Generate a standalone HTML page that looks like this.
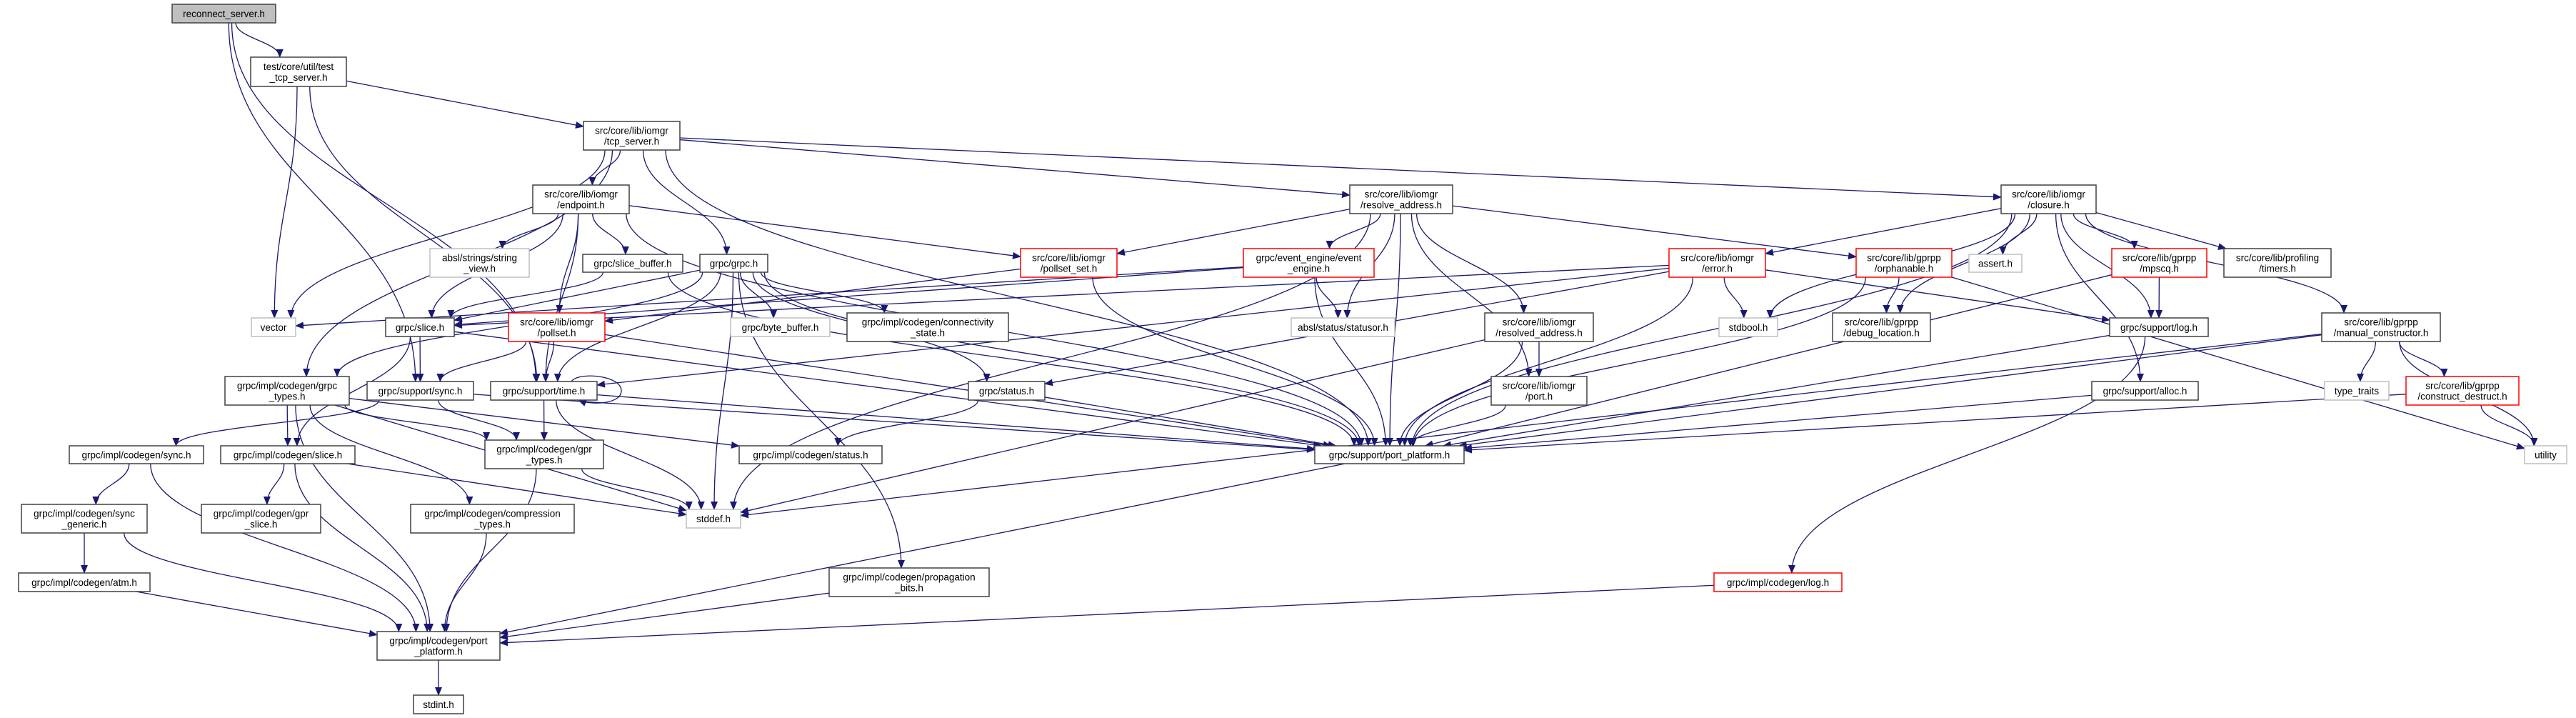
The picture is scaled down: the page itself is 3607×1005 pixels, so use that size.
<!DOCTYPE html>
<html><head><meta charset="utf-8"><style>
html,body{margin:0;padding:0;background:#fff;}
svg{display:block;}
text{font-family:"Liberation Sans",sans-serif;font-size:13.5px;fill:#000;}
</style></head><body>
<svg id="g" xmlns="http://www.w3.org/2000/svg" width="3607" height="1005" viewBox="0 0 3607 1005">
<defs><marker id="a" markerWidth="12" markerHeight="10" refX="11" refY="5" orient="auto" markerUnits="userSpaceOnUse"><path d="M0,0 L12,5 L0,10 z" fill="#191970"/></marker></defs>
<g id="edges" fill="none" stroke="#191970" stroke-width="1.3"></g>
<g id="nodes"></g>
</svg>
<script>
var N={
R:[241,6,386,32,"g",["reconnect_server.h"]],
TTS:[351,80,485,121,"b",["test/core/util/test","_tcp_server.h"]],
TS:[817,170,952,210,"b",["src/core/lib/iomgr","/tcp_server.h"]],
EP:[746,259,881,299,"b",["src/core/lib/iomgr","/endpoint.h"]],
SV:[602,348,741,388,"x",["absl/strings/string","_view.h"]],
SB:[816,356,956,381,"b",["grpc/slice_buffer.h"]],
VEC:[352,445,414,471,"x",["vector"]],
SL:[540,445,636,471,"b",["grpc/slice.h"]],
PS:[712,438,847,478,"r",["src/core/lib/iomgr","/pollset.h"]],
GRPC:[980,356,1075,381,"b",["grpc/grpc.h"]],
PSS:[1429,348,1564,388,"r",["src/core/lib/iomgr","/pollset_set.h"]],
EE:[1741,348,1924,388,"r",["grpc/event_engine/event","_engine.h"]],
BB:[1023,445,1162,471,"x",["grpc/byte_buffer.h"]],
CS:[1186,438,1412,478,"b",["grpc/impl/codegen/connectivity","_state.h"]],
RA:[1890,259,2034,299,"b",["src/core/lib/iomgr","/resolve_address.h"]],
SO:[1808,445,1953,471,"x",["absl/status/statusor.h"]],
ERR:[2337,348,2472,388,"r",["src/core/lib/iomgr","/error.h"]],
RD:[2079,438,2231,478,"b",["src/core/lib/iomgr","/resolved_address.h"]],
SBOOL:[2407,445,2489,471,"x",["stdbool.h"]],
ORP:[2599,348,2733,388,"r",["src/core/lib/gprpp","/orphanable.h"]],
DL:[2566,438,2703,478,"b",["src/core/lib/gprpp","/debug_location.h"]],
CL:[2802,259,2935,299,"b",["src/core/lib/iomgr","/closure.h"]],
AS:[2757,356,2831,381,"x",["assert.h"]],
MQ:[2957,348,3090,388,"r",["src/core/lib/gprpp","/mpscq.h"]],
TM:[3114,348,3264,388,"b",["src/core/lib/profiling","/timers.h"]],
LOG:[2954,445,3092,471,"b",["grpc/support/log.h"]],
MC:[3251,438,3417,478,"b",["src/core/lib/gprpp","/manual_constructor.h"]],
GT:[315,527,489,567,"b",["grpc/impl/codegen/grpc","_types.h"]],
SYN:[514,534,663,560,"b",["grpc/support/sync.h"]],
TIME:[687,534,836,560,"b",["grpc/support/time.h"]],
CSYN:[97,624,285,649,"b",["grpc/impl/codegen/sync.h"]],
CSL:[309,624,497,649,"b",["grpc/impl/codegen/slice.h"]],
GPT:[679,616,845,656,"b",["grpc/impl/codegen/gpr","_types.h"]],
SG:[30,706,206,746,"b",["grpc/impl/codegen/sync","_generic.h"]],
GPS:[282,706,449,746,"b",["grpc/impl/codegen/gpr","_slice.h"]],
CT:[575,706,804,746,"b",["grpc/impl/codegen/compression","_types.h"]],
ATM:[26,802,210,828,"b",["grpc/impl/codegen/atm.h"]],
CPP:[528,884,700,924,"b",["grpc/impl/codegen/port","_platform.h"]],
STDINT:[579,973,649,999,"b",["stdint.h"]],
ST:[1356,534,1463,560,"b",["grpc/status.h"]],
CST:[1035,624,1235,649,"b",["grpc/impl/codegen/status.h"]],
STDDEF:[961,713,1037,739,"x",["stddef.h"]],
PB:[1161,795,1385,835,"b",["grpc/impl/codegen/propagation","_bits.h"]],
PORT:[2088,527,2222,567,"b",["src/core/lib/iomgr","/port.h"]],
PP:[1841,624,2050,649,"b",["grpc/support/port_platform.h"]],
CLOG:[2400,802,2579,828,"r",["grpc/impl/codegen/log.h"]],
ALLOC:[2929,534,3078,560,"b",["grpc/support/alloc.h"]],
TT:[3255,534,3345,560,"x",["type_traits"]],
CD:[3369,527,3527,567,"r",["src/core/lib/gprpp","/construct_destruct.h"]],
UT:[3535,624,3594,649,"x",["utility"]]
};
var E="R>TTS R>SYN R>TIME TTS>TS TTS>VEC TTS>TIME TS>VEC TS>EP TS>GRPC TS>RA TS>CL TS>GT TS>PP EP>SV EP>SB EP>PS EP>PSS EP>SL EP>TIME EP>PP SB>SL SB>PP GRPC>SL GRPC>BB GRPC>CS GRPC>GT GRPC>ST GRPC>PB GRPC>PP GRPC>STDDEF GRPC>TIME EE>VEC PSS>PS PSS>PP PS>SYN PS>TIME PS>PP EE>SO EE>SL EE>PP RA>EE RA>SO RA>RD RA>PORT RA>PP RA>ORP RA>STDDEF RA>PSS ERR>SBOOL ERR>SL ERR>ST ERR>TIME ERR>PP ERR>LOG ORP>DL ORP>PP ORP>UT CL>ERR CL>AS CL>MQ CL>TM CL>LOG CL>MC CL>DL CL>PP CL>ALLOC CL>SBOOL MQ>LOG MQ>PP LOG>PP LOG>CLOG MC>TT MC>CD MC>UT MC>PP MC>STDDEF CD>UT CD>PP RD>PORT RD>PP RD>STDDEF PORT>PP ALLOC>PP ST>CST ST>PP SL>SYN SL>CSL SL>PP GT>CSL GT>GPT GT>CT GT>CST GT>STDDEF GT>CPP SYN>CSYN SYN>GPT SYN>PP TIME>GPT TIME>STDDEF TIME>PP CSYN>SG CSYN>CPP SG>ATM SG>CPP ATM>CPP CSL>GPS CSL>CPP CSL>STDDEF GPT>CPP GPT>STDDEF CT>CPP PB>CPP PP>CPP CLOG>CPP CPP>STDINT".split(" ");
var NS="http://www.w3.org/2000/svg";
function el(t,a){var e=document.createElementNS(NS,t);for(var k in a)e.setAttribute(k,a[k]);return e;}
function clip(n,px,py){var cx=(n[0]+n[2])/2,cy=(n[1]+n[3])/2,dx=px-cx,dy=py-cy,hw=(n[2]-n[0])/2,hh=(n[3]-n[1])/2;
var t=Math.min(dx?hw/Math.abs(dx):1e9,dy?hh/Math.abs(dy):1e9);return [cx+dx*t,cy+dy*t];}
var eg=document.getElementById("edges");
E.forEach(function(s){var p=s.split(">"),a=N[p[0]],b=N[p[1]];
var ac=[(a[0]+a[2])/2,(a[1]+a[3])/2],bc=[(b[0]+b[2])/2,(b[1]+b[3])/2];
var s1=clip(a,bc[0],bc[1]),t1=clip(b,ac[0],ac[1]);
var d;
var onBottom=Math.abs(s1[1]-a[3])<0.5, onTop=Math.abs(t1[1]-b[1])<0.5;
if(onBottom&&onTop&&(t1[1]-s1[1])>40){var m=(t1[1]-s1[1])*0.45;
d="M"+s1[0]+","+s1[1]+" C"+s1[0]+","+(s1[1]+m)+" "+t1[0]+","+(t1[1]-m)+" "+t1[0]+","+t1[1];}
else d="M"+s1[0]+","+s1[1]+" L"+t1[0]+","+t1[1];
eg.appendChild(el("path",{d:d,"marker-end":"url(#a)"}));});
eg.appendChild(el("path",{d:"M800,534 C810,520 870,525 870,547 C870,565 830,568 810,560","marker-end":"url(#a)"}));
</script>
<script>
var ng=document.getElementById("nodes");
for(var k in N){var n=N[k],c={g:"#404040",b:"#404040",r:"#ff0000",x:"#bfbfbf"}[n[4]];
ng.appendChild(el("rect",{x:n[0],y:n[1],width:n[2]-n[0],height:n[3]-n[1],fill:n[4]=="g"?"#bfbfbf":"#fff",stroke:c,"stroke-width":1.5}));
var L=n[5],cx=(n[0]+n[2])/2,cy=(n[1]+n[3])/2;
L.forEach(function(t,i){var y=cy+5+(i-(L.length-1)/2)*15;var tx=el("text",{x:cx,y:y,"text-anchor":"middle"});tx.textContent=t;ng.appendChild(tx);});}
</script>
</body></html>
